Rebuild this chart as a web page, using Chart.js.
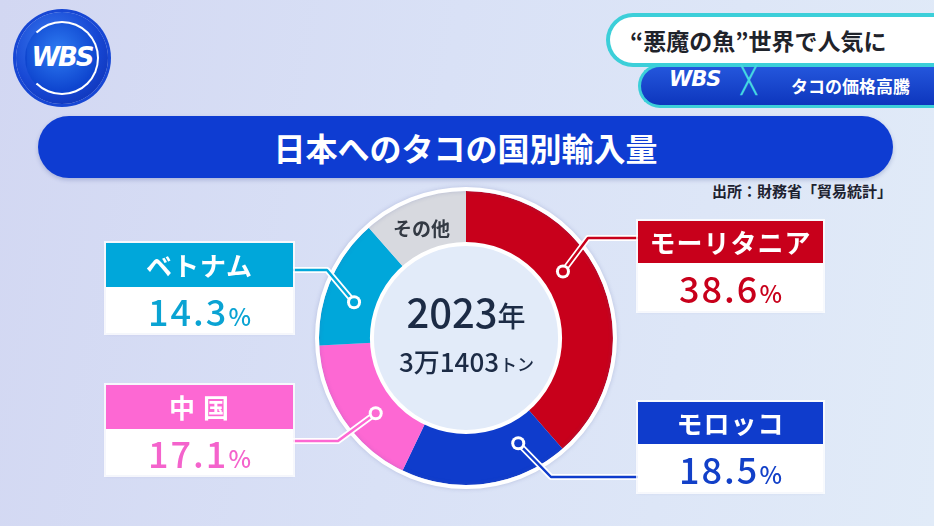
<!DOCTYPE html>
<html>
<head>
<meta charset="utf-8">
<script src="https://cdn.jsdelivr.net/npm/chart.js@4/dist/chart.umd.min.js"></script>
<style>
  html, body { margin: 0; padding: 0; }
  body {
    width: 934px; height: 526px; overflow: hidden; position: relative;
    background: linear-gradient(100deg, #d2d7f2 0%, #d9e1f6 45%, #e1ebf8 100%);
    font-family: "Noto Sans CJK JP", "Noto Sans", sans-serif;
  }
  #chart { position: absolute; left: 0; top: 0; }
  .logo {
    position: absolute; left: 16px; top: 12px; width: 92px; height: 92px; border-radius: 50%;
    background: radial-gradient(circle at 40% 35%, #3b7df0 0%, #1747d4 55%, #0b2aa8 100%);
    box-shadow: 0 0 0 3px #1747d4;
  }
  .logo .ring {
    position: absolute; left: 9px; top: 9px; width: 70px; height: 70px; border-radius: 50%;
    border: 2px solid #fff; border-left-color: transparent;
    background: radial-gradient(circle at 45% 40%, #2f7cf2 0%, #0e45cf 70%);
  }
  .logo span {
    position: absolute; left: 0; width: 92px; top: 30px; text-align: center;
    color: #fff; font: italic 900 26px "DejaVu Sans", sans-serif; letter-spacing: -2px;
  }
  .topic {
    position: absolute; left: 606px; top: 13px; width: 340px; height: 46px;
    background: #fff; border: 4px solid #3ccfd9; border-right: none;
    border-radius: 27px 0 0 27px;
    font-weight: 700; font-size: 23px; color: #1f232b; line-height: 46px;
    padding-left: 20px; box-sizing: content-box;
  }
  .sub {
    position: absolute; left: 638px; top: 64px; width: 310px; height: 38px;
    background: linear-gradient(180deg, #2456dc 0%, #0d36bd 100%);
    border: 3px solid #3ccfd9; border-right: none; border-radius: 22px 0 0 22px;
    color: #fff; line-height: 38px;
  }
  .sub .w { position: absolute; left: 28px; top: 0; font: italic 900 21px "DejaVu Sans", sans-serif; letter-spacing: -1px; }
  .sub .x { position: absolute; left: 100px; top: -2px; color: #46d6e2; font: 300 26px "DejaVu Sans", sans-serif; }
  .sub .t { position: absolute; left: 150px; top: 0; font-size: 17px; font-weight: 700; }
  .title {
    position: absolute; left: 38px; top: 116px; width: 855px; height: 62px; border-radius: 31px;
    background: #0e3cd2; color: #fff; text-align: center;
    font-weight: 700; font-size: 32px; line-height: 62px;
    box-shadow: 0 2px 4px rgba(40, 60, 140, 0.25);
  }
  .source {
    position: absolute; right: 42px; top: 180px; font-size: 15px; font-weight: 700; color: #1d2230;
  }
  .callout {
    position: absolute; background: #fff; box-shadow: 0 0 0 2px rgba(255,255,255,0.8), 0 1px 3px rgba(60,70,130,0.15);
  }
  .callout .hd {
    color: #fff; text-align: center; font-weight: 700; font-size: 26px; letter-spacing: 1px;
  }
  .callout .bd {
    text-align: center; font-weight: 500; font-size: 36px; letter-spacing: 2px;
  }
  .callout .bd small { font-size: 24px; letter-spacing: 0; }
</style>
</head>
<body>
<div class="logo"><div class="ring"></div><span>WBS</span></div>
<div class="topic">“悪魔の魚”世界で人気に</div>
<div class="sub"><span class="w">WBS</span><span class="x">╳</span><span class="t">タコの価格高騰</span></div>
<div class="title">日本へのタコの国別輸入量</div>
<div class="source">出所：財務省「貿易統計」</div>
<canvas id="chart" width="934" height="526"></canvas>

<script>
// import share of octopus into Japan, 2023 (%)
const countries = ['モーリタニア', 'モロッコ', '中国', 'ベトナム', 'その他'];
const headerLabels = ['モーリタニア', 'モロッコ', '中 国', 'ベトナム', 'その他'];
const shares = [38.6, 18.5, 17.1, 14.3, 11.5];
const sliceColors = ['#c8001b', '#0f3ccc', '#fd68d3', '#00a7da', '#d7d9df'];
const valueColors = ['#c8001b', '#1240c8', '#f463cc', '#0aa3d3', '#555'];
const centerYear = '2023';
const centerTotal = '3万1403';

// where the callout boxes sit and where the leader lines bend
const calloutLayout = [
  { index: 0, left: 638, top: 221, width: 185, hd: 42, bd: 48, lineY: 238, elbowX: 588, frac: 0.4 },
  { index: 1, left: 638, top: 402, width: 185, hd: 42, bd: 48, lineY: 477, elbowX: 551, frac: 0.22 },
  { index: 2, left: 106, top: 385, width: 187, hd: 44, bd: 46, lineY: 441, elbowX: 338, frac: 0.4 },
  { index: 3, left: 106, top: 243, width: 187, hd: 44, bd: 46, lineY: 270, elbowX: 327, frac: 0.4 }
];

// build the HTML callout boxes from the data
calloutLayout.forEach(c => {
  const box = document.createElement('div');
  box.className = 'callout';
  box.style.left = c.left + 'px';
  box.style.top = c.top + 'px';
  box.style.width = c.width + 'px';
  const hd = document.createElement('div');
  hd.className = 'hd';
  hd.textContent = headerLabels[c.index];
  hd.style.background = sliceColors[c.index];
  hd.style.height = c.hd + 'px';
  hd.style.lineHeight = c.hd + 'px';
  const bd = document.createElement('div');
  bd.className = 'bd';
  bd.style.color = valueColors[c.index];
  bd.style.height = c.bd + 'px';
  bd.style.lineHeight = c.bd + 'px';
  bd.innerHTML = shares[c.index].toFixed(1) + '<small>%</small>';
  box.appendChild(hd);
  box.appendChild(bd);
  document.body.appendChild(box);
});

const ringDecor = {
  id: 'ringDecor',
  afterDatasetsDraw(chart) {
    const ctx = chart.ctx;
    const meta = chart.getDatasetMeta(0);
    const first = meta.data[0];
    const cx = first.x, cy = first.y;
    const rIn = first.innerRadius, rOut = first.outerRadius;

    ctx.save();
    // inner disc
    ctx.beginPath();
    ctx.arc(cx, cy, rIn, 0, Math.PI * 2);
    ctx.fillStyle = '#e2ebf9';
    ctx.fill();
    // white rims
    ctx.strokeStyle = '#ffffff';
    ctx.lineWidth = 4;
    ctx.beginPath();
    ctx.arc(cx, cy, rIn, 0, Math.PI * 2);
    ctx.stroke();
    ctx.shadowColor = 'rgba(80, 90, 160, 0.25)';
    ctx.shadowBlur = 4;
    ctx.beginPath();
    ctx.arc(cx, cy, rOut + 2, 0, Math.PI * 2);
    ctx.stroke();
    ctx.shadowBlur = 0;

    // label inside the "other" slice
    const other = meta.data[4];
    const midA = (other.startAngle + other.endAngle) / 2;
    const midR = (rIn + rOut) / 2;
    ctx.fillStyle = '#333a44';
    ctx.font = '700 19px "Noto Sans CJK JP"';
    ctx.textAlign = 'center';
    ctx.textBaseline = 'middle';
    ctx.fillText(countries[4], cx + Math.cos(midA) * midR - 2, cy + Math.sin(midA) * midR + 4);

    // leader lines from slices to the boxes
    calloutLayout.forEach(c => {
      const arc = meta.data[c.index];
      const a = arc.startAngle + (arc.endAngle - arc.startAngle) * c.frac;
      const r = midR - 3;
      const dx = cx + Math.cos(a) * r, dy = cy + Math.sin(a) * r;
      const endX = c.left < cx ? c.left + c.width : c.left;
      const pts = [[dx, dy], [c.elbowX, c.lineY], [endX, c.lineY]];
      [['#ffffff', 6], [sliceColors[c.index], 2.5]].forEach(([col, w]) => {
        ctx.strokeStyle = col;
        ctx.lineWidth = w;
        ctx.lineJoin = 'round';
        ctx.beginPath();
        ctx.moveTo(pts[0][0], pts[0][1]);
        ctx.lineTo(pts[1][0], pts[1][1]);
        ctx.lineTo(pts[2][0], pts[2][1]);
        ctx.stroke();
      });
      ctx.beginPath();
      ctx.arc(dx, dy, 7, 0, Math.PI * 2);
      ctx.fillStyle = '#ffffff';
      ctx.fill();
      ctx.beginPath();
      ctx.arc(dx, dy, 4, 0, Math.PI * 2);
      ctx.fillStyle = sliceColors[c.index];
      ctx.fill();
    });

    // center text
    ctx.fillStyle = '#1c2b45';
    ctx.textBaseline = 'alphabetic';
    ctx.textAlign = 'left';
    ctx.font = '500 40px "Noto Sans CJK JP"';
    const yW = ctx.measureText(centerYear).width;
    ctx.font = '500 28px "Noto Sans CJK JP"';
    const nenW = ctx.measureText('年').width;
    let x0 = cx - (yW + nenW) / 2;
    ctx.font = '500 40px "Noto Sans CJK JP"';
    ctx.fillText(centerYear, x0, cy - 10);
    ctx.font = '500 28px "Noto Sans CJK JP"';
    ctx.fillText('年', x0 + yW, cy - 11);

    ctx.font = '500 26px "Noto Sans CJK JP"';
    const tW = ctx.measureText(centerTotal).width;
    ctx.font = '500 17px "Noto Sans CJK JP"';
    const tonW = ctx.measureText('トン').width;
    x0 = cx - (tW + tonW) / 2;
    ctx.font = '500 26px "Noto Sans CJK JP"';
    ctx.fillText(centerTotal, x0, cy + 34);
    ctx.font = '500 17px "Noto Sans CJK JP"';
    ctx.fillText('トン', x0 + tW + 1, cy + 33);
    ctx.restore();
  }
};

new Chart(document.getElementById('chart'), {
  type: 'doughnut',
  data: {
    labels: countries,
    datasets: [{
      data: shares,
      backgroundColor: sliceColors,
      borderWidth: 0
    }]
  },
  options: {
    responsive: false,
    animation: false,
    cutout: '64%',
    rotation: 0,
    layout: { padding: { left: 319, right: 321, top: 191, bottom: 41 } },
    plugins: {
      legend: { display: false },
      tooltip: { enabled: false }
    }
  },
  plugins: [ringDecor]
});
</script>
</body>
</html>
